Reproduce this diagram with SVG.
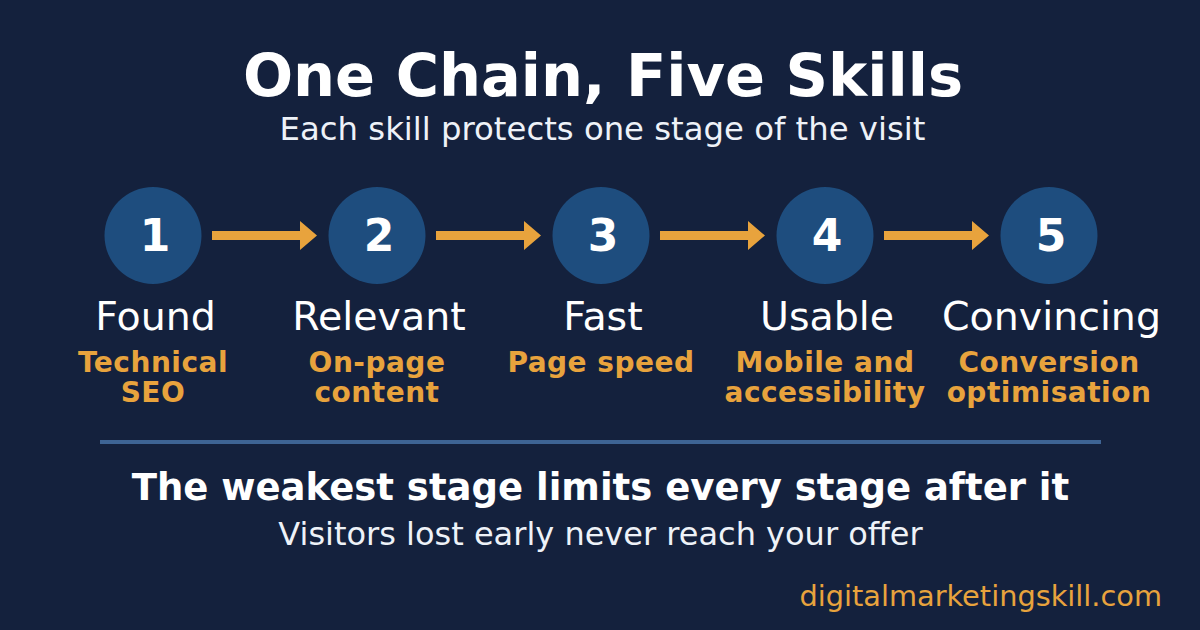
<svg xmlns="http://www.w3.org/2000/svg" width="1200" height="630" viewBox="0 0 1200 630">
<defs>
<style>
text{font-family:"DejaVu Sans",sans-serif;text-anchor:middle}
.b{font-weight:bold}
.w{fill:#ffffff}
.o{fill:#e8a33d}
.num{font-size:44px;font-weight:bold;fill:#ffffff}
.lab{font-size:39.5px;fill:#ffffff}
.sub{font-size:28px;font-weight:bold;fill:#e8a33d;letter-spacing:0.5px}
.c{fill:#1e4d7e}
.arr{fill:#e8a33d}
</style>
</defs>
<rect width="1200" height="630" fill="#14213d"/>
<text x="603" y="96" class="b w" style="font-size:59px">One Chain, Five Skills</text>
<text x="602.5" y="140" class="w" style="font-size:32.3px;fill:#eef2f8">Each skill protects one stage of the visit</text>
<g id="connectors">
<path class="arr" d="M212 231H300V221L317 235.5L300 250V240H212Z"/>
<path class="arr" d="M436 231H524V221L541 235.5L524 250V240H436Z"/>
<path class="arr" d="M660 231H748V221L765 235.5L748 250V240H660Z"/>
<path class="arr" d="M884 231H972V221L989 235.5L972 250V240H884Z"/>
</g>
<g id="node1">
<circle class="c" cx="153" cy="235.5" r="48.5"/>
<text x="155" y="251" class="num">1</text>
<text x="155.5" y="330" class="lab">Found</text>
<text x="153" y="372" class="sub">Technical</text>
<text x="153" y="402" class="sub">SEO</text>
</g>
<g id="node2">
<circle class="c" cx="377" cy="235.5" r="48.5"/>
<text x="379" y="251" class="num">2</text>
<text x="379" y="330" class="lab">Relevant</text>
<text x="377" y="372" class="sub">On-page</text>
<text x="377" y="402" class="sub">content</text>
</g>
<g id="node3">
<circle class="c" cx="601" cy="235.5" r="48.5"/>
<text x="603" y="251" class="num">3</text>
<text x="603" y="330" class="lab">Fast</text>
<text x="601" y="372" class="sub">Page speed</text>
</g>
<g id="node4">
<circle class="c" cx="825" cy="235.5" r="48.5"/>
<text x="827" y="251" class="num">4</text>
<text x="827" y="330" class="lab">Usable</text>
<text x="825" y="372" class="sub">Mobile and</text>
<text x="825" y="402" class="sub">accessibility</text>
</g>
<g id="node5">
<circle class="c" cx="1049" cy="235.5" r="48.5"/>
<text x="1051" y="251" class="num">5</text>
<text x="1051.5" y="330" class="lab">Convincing</text>
<text x="1049" y="372" class="sub">Conversion</text>
<text x="1049" y="402" class="sub">optimisation</text>
</g>
<rect x="100" y="440" width="1001" height="4" fill="#3e6494"/>
<text x="600.5" y="500" class="b w" style="font-size:37px">The weakest stage limits every stage after it</text>
<text x="600.5" y="545" class="w" style="font-size:32px;fill:#eef2f8">Visitors lost early never reach your offer</text>
<text x="1162" y="606" class="o" style="font-size:28.8px;text-anchor:end">digitalmarketingskill.com</text>
</svg>
